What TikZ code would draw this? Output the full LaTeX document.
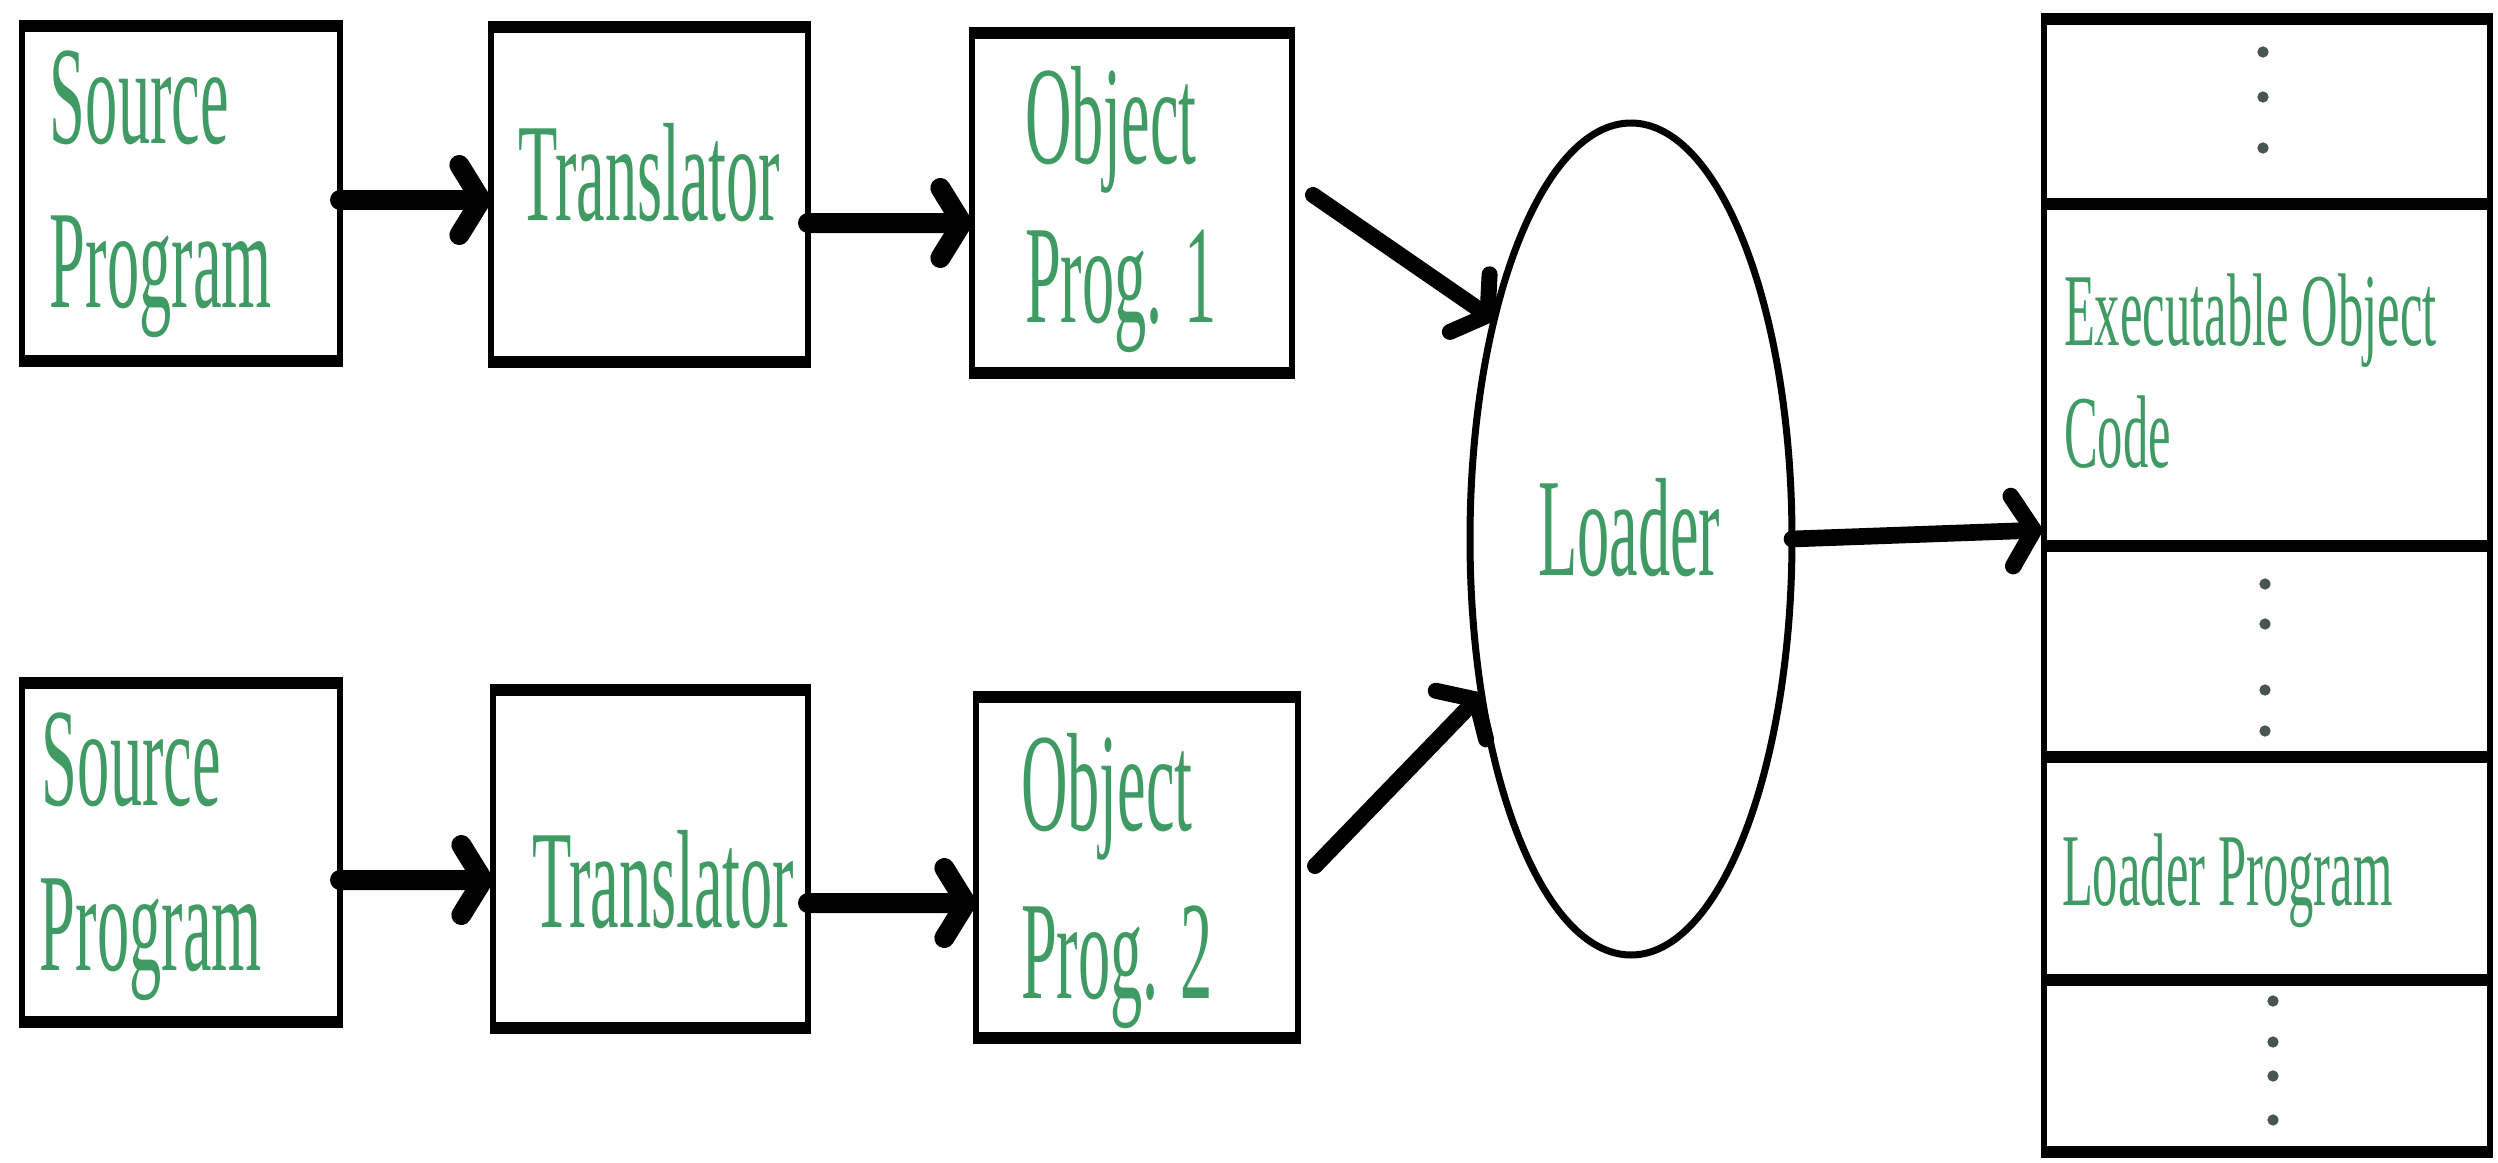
\documentclass[tikz,border=0pt]{standalone}
\usepackage{fontspec}
\newfontfamily\bigfont[FakeStretch=0.46]{Liberation Serif}
\newfontfamily\cellfont[FakeStretch=0.49]{Liberation Serif}
\usetikzlibrary{arrows.meta,shapes.geometric,calc}
\definecolor{txtgreen}{RGB}{64,154,100}
\definecolor{dotgray}{RGB}{72,86,80}
% thick top and bottom edges of a box node
\newcommand\boxedges[1]{%
  \draw[hedge] ([xshift=-0.9pt]#1.north west) -- ([xshift=0.9pt]#1.north east)
               ([xshift=-0.9pt]#1.south west) -- ([xshift=0.9pt]#1.south east);}
\begin{document}
\begin{tikzpicture}[x=0.3pt,y=-0.3pt,
  box/.style={draw, line width=1.8pt, rectangle, inner sep=0pt, outer sep=0pt},
  hedge/.style={line width=3.6pt, line cap=butt},
  oval/.style={draw, line width=2.1pt, ellipse, inner sep=0pt, outer sep=0pt},
  lbl/.style={inner sep=0pt, outer sep=0pt, anchor=base west, text=txtgreen,
              font={\bigfont\fontsize{42pt}{48pt}\selectfont}},
  celllbl/.style={lbl, font={\cellfont\fontsize{31pt}{36pt}\selectfont}},
  arr/.style={line width=6pt, line cap=round, line join=round,
              -{Straight Barb[round,length=6.5pt,width=21pt]}},
  dot/.style={fill=dotgray}]
\fill[white] (0,0) rectangle (2498,1163);
\useasboundingbox (0,0) rectangle (2498,1163);

% first chain
\node[box, minimum width=95.4pt, minimum height=100.5pt] (sp1) at (181,193.5) {};
\node[box, minimum width=95.1pt, minimum height=100.5pt] (t1) at (649.5,194.5) {};
\node[box, minimum width=96pt, minimum height=102pt] (op1) at (1132,203) {};
% second chain
\node[box, minimum width=95.4pt, minimum height=101.7pt] (sp2) at (181,852.5) {};
\node[box, minimum width=94.5pt, minimum height=101.4pt] (t2) at (650.5,859) {};
\node[box, minimum width=96.6pt, minimum height=102.3pt] (op2) at (1137,867.5) {};
\foreach \b in {sp1,t1,op1,sp2,t2,op2} {\boxedges{\b}}

% loader
\node[oval, minimum width=96.6pt, minimum height=249.6pt] (ld) at (1631,539) {};

% memory layout
\node[box, minimum width=133.8pt, minimum height=55.5pt] (c1) at (2267,111.5) {};
\node[box, minimum width=133.8pt, minimum height=102.6pt] (exec) at (2267,375) {};
\node[box, minimum width=133.8pt, minimum height=63.3pt] (c3) at (2267,651.5) {};
\node[box, minimum width=133.8pt, minimum height=66.9pt] (lp) at (2267,868.5) {};
\node[box, minimum width=133.8pt, minimum height=51.6pt] (c5) at (2267,1066) {};
\foreach \b in {c1,exec,c3,lp,c5} {\boxedges{\b}}

% labels
\node[lbl] (sp1a) at (50,143) {Source};
\node[lbl] (sp1b) at (50,307) {Program};
\node[lbl] (t1a) at (518,220) {Translator};
\node[lbl] (op1a) at (1025,163) {Object};
\node[lbl] (op1b) at (1025,322) {Prog. 1};
\node[lbl] (sp2a) at (42,805) {Source};
\node[lbl] (sp2b) at (40,970) {Program};
\node[lbl] (t2a) at (532,927) {Translator};
\node[lbl] (op2a) at (1021,830) {Object};
\node[lbl] (op2b) at (1021,998) {Prog. 2};
\node[lbl] (lda) at (1538,575) {Loader};
\node[celllbl] (execa) at (2064,345) {Executable Object};
\node[celllbl] (execb) at (2064,467) {Code};
\node[celllbl] (lpa) at (2062,905) {Loader Program};

% vertical ellipses in the memory cells
\foreach \y in {52,97,148} {\fill[dot] (2263,\y) circle[radius=1.7pt];}
\foreach \y in {584,624,690,731} {\fill[dot] (2265,\y) circle[radius=1.7pt];}
\foreach \y in {1001,1042,1076,1120} {\fill[dot] (2273,\y) circle[radius=1.7pt];}

% connectors
\draw[arr] ($(sp1.east)+(0,6.5)$) -- ($(t1.west)+(0,5.5)$);
\draw[arr] ($(t1.east)+(0,28.5)$) -- ($(op1.west)+(0,20)$);
\draw[arr] ($(sp2.east)+(0,27.5)$) -- ($(t2.west)+(0,21)$);
\draw[arr] ($(t2.east)+(0,44)$) -- ($(op2.west)+(0,35.5)$);
\draw[arr, line width=4.8pt] ($(op1.east)+(21,-8)$) -- (ld.122);
\draw[arr, line width=4.8pt] ($(op2.east)+(17,-1.5)$) -- (ld.226);
\draw[arr, line width=5pt] (ld.east) -- ($(exec.south west)+(-2,-16)$);
\end{tikzpicture}
\end{document}
